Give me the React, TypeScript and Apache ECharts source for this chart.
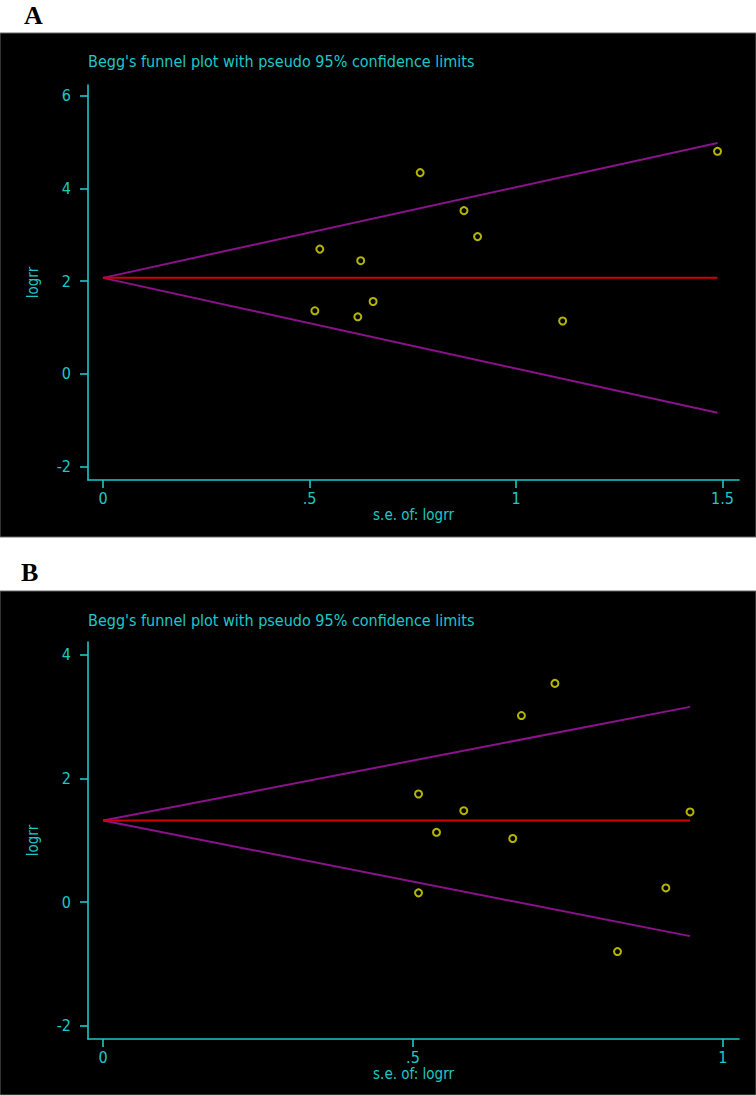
import React, { useEffect, useRef } from "react";
import * as echarts from "echarts";

// ---------- Panel A data ----------
const seA = [0.513, 0.525, 0.617, 0.624, 0.654, 0.768, 0.874, 0.907, 1.113, 1.488];
const logrrA = [1.36, 2.69, 1.23, 2.44, 1.56, 4.34, 3.52, 2.96, 1.14, 4.8];
const lineSeA = [0, 1.488];
const pooledA = [2.07, 2.07];
const upperA = [2.07, 4.98];
const lowerA = [2.07, -0.84];
const xTicksA = [0, 0.5, 1, 1.5];
const yTicksA = [-2, 0, 2, 4, 6];

// ---------- Panel B data ----------
const seB = [0.509, 0.509, 0.538, 0.582, 0.661, 0.675, 0.729, 0.83, 0.908, 0.947];
const logrrB = [1.75, 0.15, 1.13, 1.48, 1.03, 3.02, 3.54, -0.8, 0.23, 1.46];
const lineSeB = [0, 0.947];
const pooledB = [1.32, 1.32];
const upperB = [1.32, 3.16];
const lowerB = [1.32, -0.55];
const xTicksB = [0, 0.5, 1];
const yTicksB = [-2, 0, 2, 4];

const panelTitle = "Begg's funnel plot with pseudo 95% confidence limits";
const xName = "s.e. of: logrr";
const yName = "logrr";

const CYAN = "#1ec8c8";
const PURPLE = "#8c128c";
const RED = "#d40000";
const YELLOW = "#e2e200";
const FONT = "'Liberation Sans Narrow', 'Arial Narrow', 'DejaVu Sans Condensed', sans-serif";

const xFmt = (v: number) => (v === 0 ? "0" : String(v).replace(/^0\./, "."));

function makeX(gridIndex: number, min: number, max: number, ticks: number[]) {
  return {
    gridIndex,
    type: "value",
    min,
    max,
    axisLine: { show: true, onZero: false, lineStyle: { color: CYAN, width: 1.6 } },
    axisTick: { show: true, length: 8, customValues: ticks, lineStyle: { color: CYAN, width: 1.6 } },
    axisLabel: {
      customValues: ticks,
      formatter: xFmt,
      color: CYAN,
      fontSize: 16,
      fontFamily: FONT,
      margin: 10,
    },
    splitLine: { show: false },
    name: xName,
    nameLocation: "middle",
    nameGap: 27,
    nameTextStyle: { color: CYAN, fontSize: 15, fontFamily: FONT },
  };
}

function makeY(gridIndex: number, min: number, max: number, ticks: number[]) {
  return {
    gridIndex,
    type: "value",
    min,
    max,
    axisLine: { show: true, onZero: false, lineStyle: { color: CYAN, width: 1.6 } },
    axisTick: { show: true, length: 8, customValues: ticks, lineStyle: { color: CYAN, width: 1.6 } },
    axisLabel: {
      customValues: ticks,
      color: CYAN,
      fontSize: 16,
      fontFamily: FONT,
      margin: 17,
    },
    splitLine: { show: false },
    name: yName,
    nameLocation: "middle",
    nameGap: 48,
    nameTextStyle: { color: CYAN, fontSize: 15, fontFamily: FONT },
  };
}

function lineSeries(idx: number, xs: number[], ys: number[], color: string, width: number) {
  return {
    type: "line",
    xAxisIndex: idx,
    yAxisIndex: idx,
    data: xs.map((x, i) => [x, ys[i]]),
    showSymbol: false,
    symbol: "none",
    silent: true,
    lineStyle: { color, width },
    z: 2,
  };
}

function scatterSeries(idx: number, xs: number[], ys: number[]) {
  return {
    type: "scatter",
    xAxisIndex: idx,
    yAxisIndex: idx,
    data: xs.map((x, i) => [x, ys[i]]),
    symbol: "circle",
    symbolSize: 7,
    itemStyle: { color: "#000000", borderColor: YELLOW, borderWidth: 2 },
    z: 3,
  };
}

export default function App() {
  const ref = useRef<HTMLDivElement>(null);
  useEffect(() => {
    document.body.style.margin = "0";
    const chart = echarts.init(ref.current!, null, { renderer: "svg" });
    chart.setOption({
      animation: false,
      graphic: [
        { type: "rect", z: -10, shape: { x: 0, y: 33, width: 756, height: 504 }, style: { fill: "#000", stroke: "#666", lineWidth: 1 } },
        { type: "rect", z: -10, shape: { x: 0, y: 591, width: 756, height: 504 }, style: { fill: "#000", stroke: "#666", lineWidth: 1 } },
        { type: "text", x: 24, y: 15, style: { text: "A", fill: "#000", font: "bold 26px 'Liberation Serif', 'Times New Roman', serif", verticalAlign: "middle" } },
        { type: "text", x: 21, y: 572, style: { text: "B", fill: "#000", font: "bold 26px 'Liberation Serif', 'Times New Roman', serif", verticalAlign: "middle" } },
        { type: "text", x: 88, y: 61, style: { text: panelTitle, fill: CYAN, fontSize: 16, fontFamily: FONT, verticalAlign: "middle" } },
        { type: "text", x: 88, y: 620, style: { text: panelTitle, fill: CYAN, fontSize: 16, fontFamily: FONT, verticalAlign: "middle" } },
      ],
      grid: [
        { left: 88, top: 85, width: 651, height: 395 },
        { left: 88, top: 642, width: 651, height: 397 },
      ],
      xAxis: [makeX(0, -0.0363, 1.54, xTicksA), makeX(1, -0.0242, 1.026, xTicksB)],
      yAxis: [makeY(0, -2.29, 6.23, yTicksA), makeY(1, -2.215, 4.21, yTicksB)],
      series: [
        lineSeries(0, lineSeA, upperA, PURPLE, 2),
        lineSeries(0, lineSeA, lowerA, PURPLE, 2),
        lineSeries(0, lineSeA, pooledA, RED, 2),
        scatterSeries(0, seA, logrrA),
        lineSeries(1, lineSeB, upperB, PURPLE, 2),
        lineSeries(1, lineSeB, lowerB, PURPLE, 2),
        lineSeries(1, lineSeB, pooledB, RED, 2),
        scatterSeries(1, seB, logrrB),
      ],
    });
    return () => chart.dispose();
  }, []);
  return (
    <div
      ref={ref}
      style={{ position: "absolute", left: 0, top: 0, width: 756, height: 1095 }}
    />
  );
}
